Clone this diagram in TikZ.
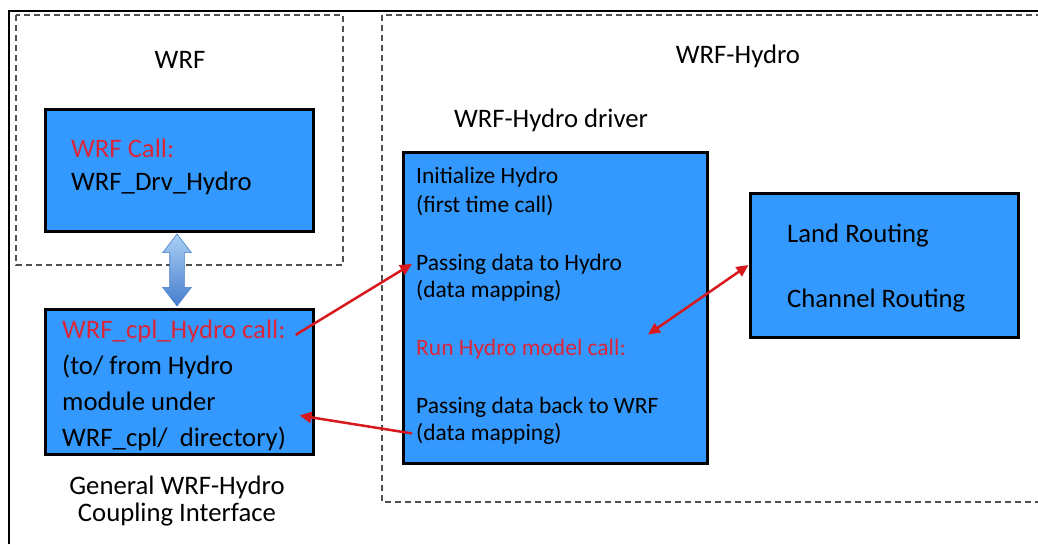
\documentclass[tikz,border=0pt]{standalone}
\usepackage{fontspec}
\setmainfont{Carlito}
\usetikzlibrary{arrows.meta,shapes.arrows}

\definecolor{boxblue}{RGB}{51,153,255}
\definecolor{callred}{RGB}{218,38,58}
\definecolor{arrowred}{RGB}{215,25,30}
\definecolor{dashgray}{RGB}{80,80,80}
\definecolor{linklight}{RGB}{170,208,245}
\definecolor{linkdark}{RGB}{70,125,205}

\begin{document}
\begin{tikzpicture}[x=1pt, y=-1pt,
    bluebox/.style={draw, line width=3pt, fill=boxblue},
    dashbox/.style={draw=dashgray, line width=1.3pt, dash pattern=on 6pt off 4pt},
    txt/.style={inner sep=4pt, anchor=base west, font=\fontsize{26.7}{32}\selectfont},
    smalltxt/.style={txt, font=\fontsize{23.5}{28}\selectfont},
    title/.style={inner sep=2pt, anchor=base, font=\fontsize{26.7}{32}\selectfont},
    redarrow/.style={draw=arrowred, line width=2.5pt, -{Triangle[length=12pt,width=11pt]}}]
            \useasboundingbox (0,0) rectangle (1038,544);
            \clip (0,0) rectangle (1038,544);

            % frame and dashed regions
            \draw[line width=2pt] (9,544) -- (9,11) -- (1038,11);
            \draw[dashbox] (16,15) rectangle (343,265);
            \draw[dashbox] (382,15) rectangle (1050,502);

            \node[title] (wrflbl) at (180,68) {WRF};
            \node[title] (hydrolbl) at (738,63) {WRF-Hydro};
            \node[title] (drvlbl) at (551,127) {WRF-Hydro driver};

            % boxes
            \node[bluebox, minimum width=268pt, minimum height=122pt] (wrfbox) at (179,170) {};
            \node[bluebox, minimum width=268pt, minimum height=145pt] (cplbox) at (179,381.5) {};
            \node[bluebox, minimum width=304pt, minimum height=311pt] (drvbox) at (555,307.5) {};
            \node[bluebox, minimum width=268pt, minimum height=144pt] (routebox) at (884,265) {};

            % WRF box
            \node[txt, text=callred] (wrfcall) at (67,157) {WRF Call:};
            \node[txt] (drvcall) at (67,190) {WRF\_Drv\_Hydro};

            % coupling box
            \node[txt, text=callred] (cpl) at (58,338) {WRF\_cpl\_Hydro call:};
            \node[txt] (tofrom) at (58,374) {(to/ from Hydro};
            \node[txt] (module) at (58,410) {module under};
            \node[txt] (dir) at (58,446) {WRF\_cpl/\ \ directory)};
            \node[title] (cap1) at (177,494) {General WRF-Hydro};
            \node[title] (cap2) at (177,521) {Coupling Interface};

            % driver box
            \node[smalltxt] (init) at (412,183) {Initialize Hydro};
            \node[smalltxt] (first) at (412,212) {(first time call)};
            \node[smalltxt] (pass1) at (412,270) {Passing data to Hydro};
            \node[smalltxt] (map1) at (412,297) {(data mapping)};
            \node[smalltxt, text=callred] (run) at (412,355) {Run Hydro model call:};
            \node[smalltxt] (pass2) at (412,413) {Passing data back to WRF};
            \node[smalltxt] (map2) at (412,440) {(data mapping)};

            % routing box
            \node[txt] (land) at (783,242) {Land Routing};
            \node[txt] (channel) at (783,307) {Channel Routing};

            % connectors
            \node[double arrow, rotate=90, draw=linkdark, line width=0.6pt,
                  minimum height=72pt, inner xsep=0pt, inner ysep=7pt,
                  double arrow head extend=7pt, double arrow tip angle=75,
                  top color=linklight, bottom color=linkdark] (link) at (177,270) {};

            \draw[redarrow] ([xshift=6pt,yshift=-4pt]cpl.east) -- (pass1.west);
            \draw[redarrow] (map2.west) -- ([xshift=-15pt,yshift=-34pt]cplbox.east);
            \draw[redarrow, {Triangle[length=12pt,width=11pt]}-{Triangle[length=12pt,width=11pt]}] ([xshift=18pt]run.north east) -- (routebox.west);
        \end{tikzpicture}
\end{document}
